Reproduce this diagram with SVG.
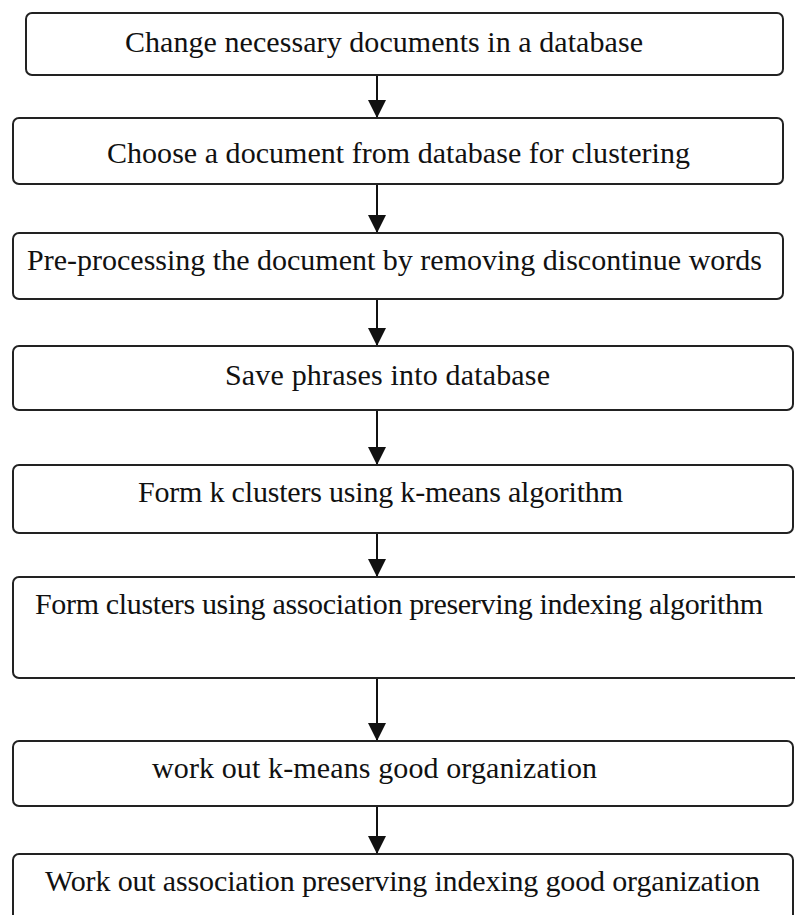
<svg xmlns="http://www.w3.org/2000/svg" width="795" height="915" viewBox="0 0 795 915">
<defs>
<style>
.box{fill:#fff;stroke:#222;stroke-width:2}
.lbl{font-family:"Liberation Serif","Times New Roman",serif;font-size:30px;fill:#111}
.edge{stroke:#111;stroke-width:2;fill:none}
</style>
<marker id="ah" markerWidth="18" markerHeight="18" refX="18" refY="9" orient="auto" markerUnits="userSpaceOnUse" viewBox="0 0 18 18">
<path d="M0,0 L18,9 L0,18 Z" fill="#111"/>
</marker>
</defs>
<rect width="795" height="915" fill="#fff"/>
<g id="connectors">
<line class="edge" x1="377" y1="75" x2="377" y2="118" marker-end="url(#ah)"/>
<line class="edge" x1="377" y1="184" x2="377" y2="233" marker-end="url(#ah)"/>
<line class="edge" x1="377" y1="299" x2="377" y2="346" marker-end="url(#ah)"/>
<line class="edge" x1="377" y1="410" x2="377" y2="465" marker-end="url(#ah)"/>
<line class="edge" x1="377" y1="533" x2="377" y2="577" marker-end="url(#ah)"/>
<line class="edge" x1="377" y1="678" x2="377" y2="741" marker-end="url(#ah)"/>
<line class="edge" x1="377" y1="806" x2="377" y2="854" marker-end="url(#ah)"/>
</g>
<g id="n1"><rect class="box" x="26" y="13" width="757" height="62" rx="6"/><text class="lbl" x="125" y="52" textLength="518" lengthAdjust="spacing">Change necessary documents in a database</text></g>
<g id="n2"><rect class="box" x="13" y="118" width="770" height="66" rx="6"/><text class="lbl" x="107" y="163" textLength="583" lengthAdjust="spacing">Choose a document from database for clustering</text></g>
<g id="n3"><rect class="box" x="13" y="233" width="770" height="66" rx="6"/><text class="lbl" x="27" y="270" textLength="735" lengthAdjust="spacing">Pre-processing the document by removing discontinue words</text></g>
<g id="n4"><rect class="box" x="13" y="346" width="780" height="64" rx="6"/><text class="lbl" x="225" y="385" textLength="325" lengthAdjust="spacing">Save phrases into database</text></g>
<g id="n5"><rect class="box" x="13" y="465" width="780" height="68" rx="6"/><text class="lbl" x="138" y="502" textLength="485" lengthAdjust="spacing">Form k clusters using k-means algorithm</text></g>
<g id="n6"><rect class="box" x="13" y="577" width="800" height="101" rx="6"/><text class="lbl" x="35" y="614" textLength="728" lengthAdjust="spacing">Form clusters using association preserving indexing algorithm</text></g>
<g id="n7"><rect class="box" x="13" y="741" width="780" height="65" rx="6"/><text class="lbl" x="152" y="778" textLength="445" lengthAdjust="spacing">work out k-means good organization</text></g>
<g id="n8"><rect class="box" x="13" y="854" width="780" height="80" rx="6"/><text class="lbl" x="45" y="891" textLength="715" lengthAdjust="spacing">Work out association preserving indexing good organization</text></g>
</svg>
